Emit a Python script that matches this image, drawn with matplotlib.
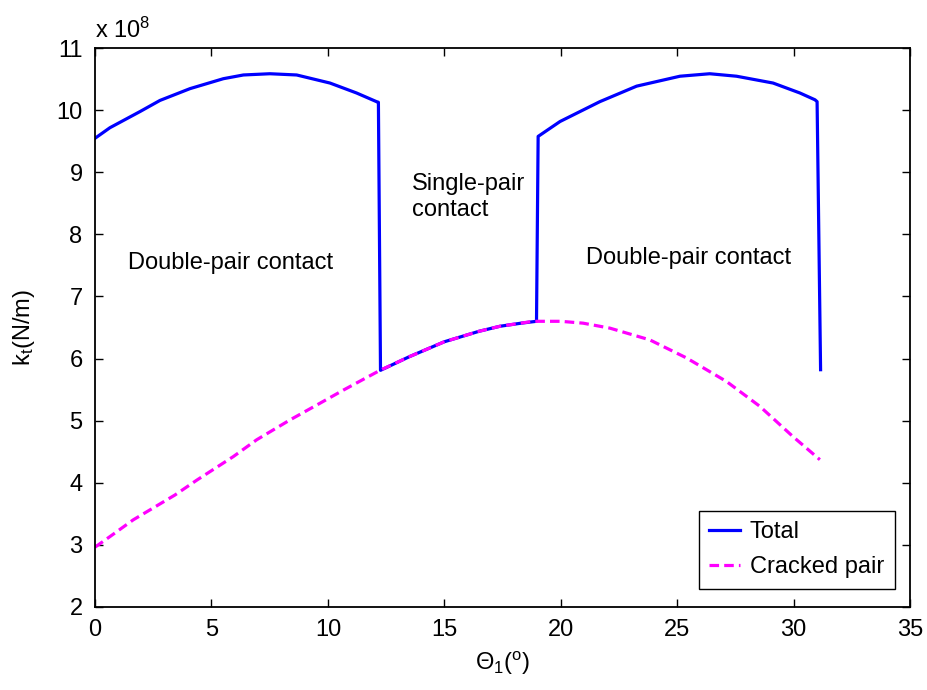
import matplotlib
matplotlib.use("Agg")
import matplotlib.pyplot as plt

plt.rcParams['font.family'] = ['Liberation Sans', 'DejaVu Sans']
plt.rcParams['mathtext.fontset'] = 'custom'
plt.rcParams['mathtext.rm'] = 'Liberation Sans'
plt.rcParams['mathtext.it'] = 'Liberation Sans'

# mesh stiffness of the total gear pair (units of 1e8 N/m)
theta_total = [0.0, 0.64, 1.93, 2.79, 4.08, 5.51, 6.37, 7.51, 8.66, 10.09, 11.23, 12.09, 12.17,
               12.26, 13.5, 15.0, 16.5, 17.39, 18.3, 18.96,
               19.03, 19.97, 21.68, 23.26, 25.12, 26.4, 27.55, 29.12, 30.27, 30.92, 31.01, 31.16]
k_total = [9.55, 9.72, 9.98, 10.16, 10.35, 10.51, 10.57, 10.59, 10.57, 10.44, 10.28, 10.14, 10.13,
           5.81, 6.03, 6.27, 6.44, 6.52, 6.57, 6.60,
           9.58, 9.82, 10.14, 10.39, 10.55, 10.59, 10.55, 10.44, 10.28, 10.17, 10.14, 5.82]

# mesh stiffness of the cracked tooth pair
theta_crack = [0.0, 0.64, 1.64, 3.43, 4.37, 5.94, 6.94, 8.37, 9.52, 10.66, 12.24,
               13.5, 15.0, 16.5, 17.39, 18.82, 20.0, 20.96, 22.11, 23.83, 25.4,
               27.12, 28.55, 29.98, 31.13]
k_crack = [2.96, 3.13, 3.40, 3.80, 4.04, 4.42, 4.69, 5.01, 5.25, 5.49, 5.81,
           6.03, 6.27, 6.44, 6.52, 6.60, 6.60, 6.57, 6.49, 6.30, 6.01,
           5.63, 5.23, 4.74, 4.37]

fig = plt.figure(figsize=(9.28, 6.9), dpi=100)
ax = fig.add_axes([0.1024, 0.1207, 0.8782, 0.8093])

ax.plot(theta_total, [v * 1e8 for v in k_total], color='#0000FF', lw=2.3, label='Total')
ax.plot(theta_crack, [v * 1e8 for v in k_crack], color='#FF00FF', lw=2.3,
        linestyle=(0, (3, 1.6)), label='Cracked pair')

fs = 17
ax.set_xlim(0, 35)
ax.set_ylim(2e8, 11e8)
ax.set_xticks(range(0, 36, 5))
ax.set_yticks([i * 1e8 for i in range(2, 12)])
ax.set_yticklabels([str(i) for i in range(2, 12)])
ax.tick_params(direction='in', top=True, right=True, length=6, width=1,
               labelsize=fs, pad=9)
for s in ax.spines.values():
    s.set_linewidth(1.3)

ax.text(0.0, 1.01, r'x 10$^{8}$', transform=ax.transAxes, fontsize=fs,
        ha='left', va='bottom')

ax.set_xlabel(r'$\Theta_1$($^{\rm o}$)', fontsize=fs, labelpad=6)
ax.set_ylabel(r'k$_{\rm t}$(N/m)', fontsize=fs, labelpad=14)

ax.text(1.4, 7.54e8, 'Double-pair contact', fontsize=fs, va='center', ha='left')
ax.text(13.6, 8.6e8, 'Single-pair\ncontact', fontsize=fs, va='center', ha='left',
        linespacing=1.25)
ax.text(21.1, 7.62e8, 'Double-pair contact', fontsize=fs, va='center', ha='left')

leg = ax.legend(loc='lower right', bbox_to_anchor=(0.981, 0.032), fontsize=fs,
                fancybox=False, framealpha=1, edgecolor='black', borderaxespad=0,
                handlelength=1.3, handletextpad=0.4, labelspacing=0.55,
                borderpad=0.45)
leg.get_frame().set_linewidth(1.0)

fig.savefig('out.png', dpi=100, facecolor='white')
